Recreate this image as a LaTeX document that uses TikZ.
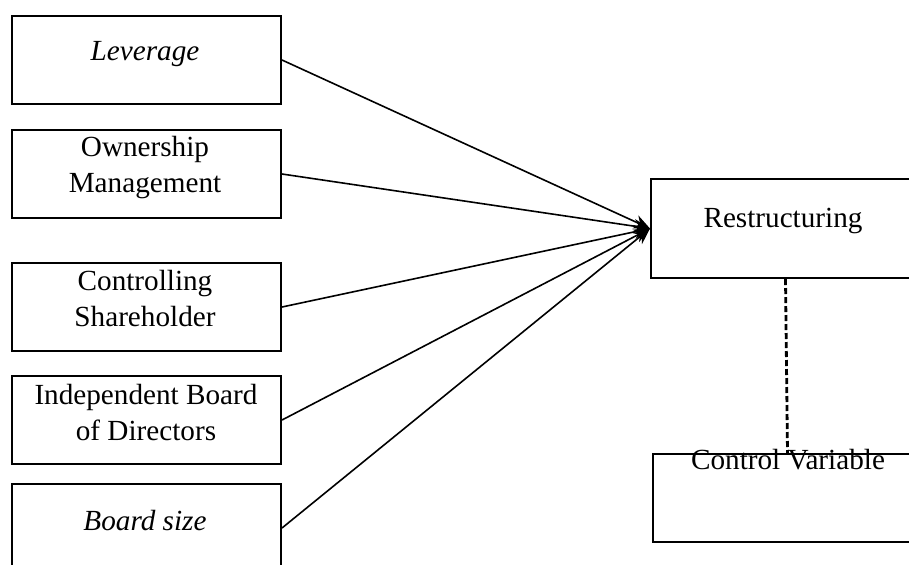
\documentclass[tikz,border=0pt]{standalone}
\usepackage{fontspec}
\setmainfont{Liberation Serif}
\usetikzlibrary{arrows.meta}
\begin{document}
\begin{tikzpicture}[x=0.5pt,y=-0.5pt,
 box/.style={draw,line width=1pt,minimum width=134.5pt,minimum height=44pt,inner sep=0pt,anchor=north west},
 lbl/.style={font=\fontsize{14.6}{18}\selectfont,align=center,inner sep=0pt},
 link/.style={line width=0.8pt,-{Stealth[length=8pt,width=7pt]}},
 ]
\useasboundingbox (0,0) rectangle (909,564);
\clip (0,0) rectangle (909,564);
\node[box] (b1) at (11,15) {};
\node[box] (b2) at (11,129) {};
\node[box] (b3) at (11,262) {};
\node[box] (b4) at (11,375) {};
\node[box] (b5) at (11,483) {};
\node[box,minimum height=49.5pt] (r) at (650,178) {};
\node[box] (c) at (652,453) {};
\node[lbl,font=\fontsize{14.6}{18}\selectfont\itshape] (t1) at (145,54) {Leverage};
\node[lbl] (t2) at (145,168) {Ownership\\Management};
\node[lbl] (t3) at (145,298) {Controlling\\Shareholder};
\node[lbl] (t4) at (146,412) {Independent Board\\of Directors};
\node[lbl,font=\fontsize{14.6}{18}\selectfont\itshape] (t5) at (145,521) {Board size};
\node[lbl] (tr) at (783,221) {Restructuring};
\draw[line width=1.4pt,dash pattern=on 3pt off 1.5pt] (r.south) -- (c.north);
\node[lbl] (tc) at (788,460) {Control Variable};
\foreach \b in {b1,b2,b3,b4,b5} \draw[link] (\b.east) -- (r.west);
\end{tikzpicture}
\end{document}
